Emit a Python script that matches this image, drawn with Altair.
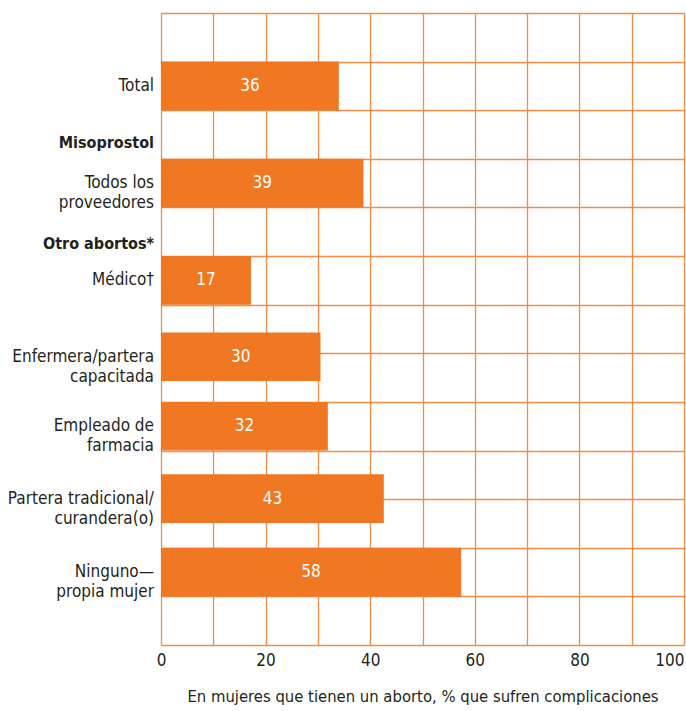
import altair as alt
import pandas as pd

# Data
categories = ["Total", "Todos los\nproveedores", "Médico†", "Enfermera/partera\ncapacitada",
              "Empleado de\nfarmacia", "Partera tradicional/\ncurandera(o)", "Ninguno—\npropia mujer"]
bar_values = [34, 38.7, 17.2, 30.5, 31.9, 42.6, 57.4]
label_values = [36, 39, 17, 30, 32, 43, 58]
headers = ["Misoprostol", "Otro abortos*"]
x_ticks = [0, 10, 20, 30, 40, 50, 60, 70, 80, 90, 100]
x_title = "En mujeres que tienen un aborto, % que sufren complicaciones"

# Layout (row positions on a 13-row grid)
row_top = [1, 3, 5, 6.57, 8, 9.49, 11]
header_rows = [2.67, 4.75]

df = pd.DataFrame({
    "cat": categories,
    "value": bar_values,
    "label": [str(v) for v in label_values],
    "y0": row_top,
    "y1": [r + 1 for r in row_top],
    "yc": [r + 0.5 for r in row_top],
})
df["half"] = df["value"] / 2
hdf = pd.DataFrame({"h": headers, "yc": header_rows})

FONT = "Liberation Sans Narrow, DejaVu Sans Condensed, sans-serif"
ORANGE = "#F07823"
GRID = "#F28C48"
TEXT = "#231F20"

yscale = alt.Scale(domain=[0, 13], reverse=True, nice=False)
xscale = alt.Scale(domain=[0, 100], nice=False)

base = alt.Chart(df)

bars = base.mark_bar(color=ORANGE).encode(
    x=alt.X("value:Q", scale=xscale,
            axis=alt.Axis(values=x_ticks, grid=True, gridColor=GRID, gridWidth=1.3,
                          labelExpr="datum.value % 20 == 0 ? datum.label : ''",
                          labelFlush=False,
                          labelAlign=alt.ExprRef("datum.value == 100 ? 'right' : 'center'"),
                          ticks=False, domain=False, labelFont=FONT, labelFontSize=17,
                          labelColor=TEXT, labelPadding=7, title=x_title, titleFont=FONT,
                          titleFontSize=16.5, titleFontWeight="normal", titleColor=TEXT,
                          titlePadding=20)),
    x2=alt.value(0),
    y=alt.Y("y0:Q", scale=yscale,
            axis=alt.Axis(values=list(range(0, 14)), grid=True, gridColor=GRID, gridWidth=1.3,
                          labels=False, ticks=False, domain=False, title=None)),
    y2="y1:Q",
)

vals = base.mark_text(color="white", font=FONT, fontSize=17, baseline="middle").encode(
    x=alt.X("half:Q", scale=xscale),
    y=alt.Y("yc:Q", scale=yscale),
    text="label:N",
)

cats = base.mark_text(color=TEXT, font=FONT, fontSize=17, align="right", baseline="middle",
                      lineBreak="\n", lineHeight=20).encode(
    x=alt.value(-7),
    y=alt.Y("yc:Q", scale=yscale),
    text="cat:N",
)

hdrs = alt.Chart(hdf).mark_text(color=TEXT, font=FONT, fontSize=16, fontWeight="bold",
                                align="right", baseline="middle").encode(
    x=alt.value(-7),
    y=alt.Y("yc:Q", scale=yscale),
    text="h:N",
)

chart = alt.layer(bars, vals, cats, hdrs).properties(
    width=523, height=632,
    autosize=alt.AutoSizeParams(type="none"),
    padding={"left": 161, "top": 13, "right": 2, "bottom": 66},
).configure_view(stroke=GRID, strokeWidth=1.5).configure(background="white")

chart.save("out.html", embed_options={"renderer": "svg", "actions": False})
